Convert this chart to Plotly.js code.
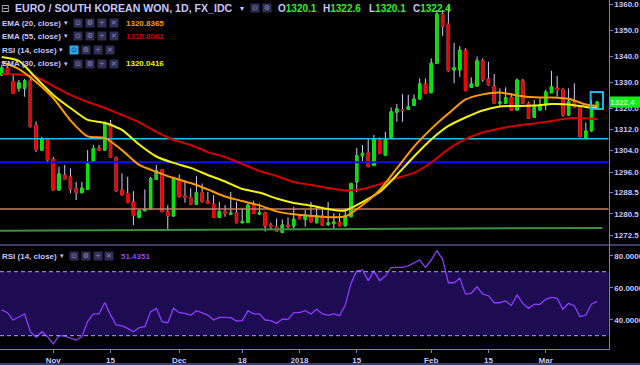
<!DOCTYPE html>
<html><head><meta charset="utf-8">
<script src="https://cdn.plot.ly/plotly-3.0.1.min.js"></script>
<style>html,body{margin:0;padding:0;background:#000}</style>
</head><body><div id="chart" style="width:640px;height:365px"></div>
<script>
// ---------- data ----------
const open = [1332.7,1335.4,1330.2,1327.6,1327.6,1330.5,1313.7,1304.2,1308.2,1300.7,
1289.3,1294.9,1294.2,1289.9,1288.3,1289.6,1299.8,1304.9,1304.2,1314.1,
1301.5,1289.3,1288.0,1284.9,1279.2,1281.6,1282.1,1293.2,1296.8,1281.3,
1279.7,1293.4,1287.1,1286.6,1284.0,1288.3,1285.2,1284.1,1279.2,1281.3,
1280.3,1280.9,1277.2,1277.3,1283.7,1280.4,1280.9,1276.4,1275.8,1273.6,
1276.4,1276.0,1279.4,1278.4,1279.9,1277.2,1279.7,1276.5,1276.9,1277.4,
1276.1,1279.4,1292.3,1302.0,1303.2,1298.4,1308.4,1302.3,1309.0,1318.5,
1319.4,1319.6,1321.1,1323.5,1329.3,1325.9,1337.2,1356.3,1352.4,1334.6,
1334.6,1342.3,1328.0,1328.5,1338.2,1331.2,1328.5,1321.9,1321.9,1324.2,
1319.3,1330.4,1321.9,1316.6,1319.3,1321.2,1325.9,1327.7,1327.2,1317.4,
1322.5,1320.3,1308.9,1311.4,1320.1];
const high = [1336.6,1336.2,1332.7,1330.8,1331.2,1331.4,1315.0,1309.2,1308.5,1301.7,
1298.0,1298.6,1297.4,1292.3,1292.3,1304.2,1306.1,1306.1,1314.9,1315.6,
1301.7,1295.5,1294.2,1288.9,1281.8,1289.5,1294.2,1298.6,1297.0,1283.7,
1294.2,1295.1,1293.0,1289.9,1294.5,1291.7,1288.6,1287.4,1284.9,1283.7,
1288.6,1284.9,1282.5,1284.3,1285.3,1284.3,1281.3,1277.2,1278.8,1278.4,
1279.2,1283.1,1280.0,1281.9,1284.9,1283.4,1282.5,1284.9,1280.7,1280.7,
1282.5,1292.0,1305.0,1306.1,1308.2,1309.9,1309.0,1311.1,1320.3,1321.6,
1325.4,1325.1,1325.3,1331.4,1331.4,1339.1,1357.9,1357.9,1359.2,1345.1,
1343.9,1343.0,1331.8,1339.8,1339.1,1337.8,1333.1,1327.6,1328.0,1325.7,
1331.4,1331.2,1322.5,1323.1,1323.8,1327.0,1334.3,1332.3,1327.6,1327.6,
1329.5,1320.5,1314.6,1323.1,1322.6];
const low = [1332.3,1333.0,1325.5,1326.3,1324.4,1312.8,1303.5,1304.0,1299.3,1289.1,
1289.1,1293.0,1288.1,1285.6,1288.1,1289.4,1299.7,1304.0,1304.0,1301.3,
1288.7,1287.4,1284.5,1276.4,1278.8,1281.5,1282.0,1293.1,1281.1,1274.2,
1279.5,1286.6,1284.6,1283.8,1283.8,1284.8,1284.2,1279.0,1279.0,1279.4,
1280.0,1277.0,1277.0,1277.0,1280.4,1280.0,1274.0,1274.8,1273.8,1273.4,
1275.2,1274.6,1278.5,1275.8,1277.4,1277.0,1276.1,1276.0,1274.6,1275.8,
1275.8,1279.3,1288.4,1300.1,1297.8,1298.2,1302.8,1302.2,1308.8,1314.9,
1314.9,1319.3,1320.8,1323.4,1325.6,1325.8,1337.0,1347.8,1334.1,1329.5,
1332.0,1326.5,1327.9,1328.3,1330.1,1328.7,1321.7,1320.8,1321.7,1319.2,
1319.2,1321.7,1316.1,1316.5,1319.2,1319.3,1325.8,1324.4,1316.8,1317.3,
1320.0,1309.1,1308.8,1311.2,1320.1];
const close = [1335.4,1333.5,1325.7,1329.8,1330.5,1313.0,1304.4,1308.4,1300.5,1289.3,
1295.3,1293.2,1289.6,1288.3,1290.0,1299.0,1304.8,1304.2,1314.1,1301.5,
1289.0,1287.5,1284.6,1279.9,1281.6,1282.2,1293.6,1296.5,1281.3,1279.7,
1293.6,1286.8,1286.6,1284.0,1288.3,1284.9,1284.4,1279.2,1281.3,1280.7,
1280.8,1277.2,1277.7,1283.7,1280.7,1280.9,1276.0,1275.8,1274.0,1276.4,
1275.8,1278.5,1278.7,1280.0,1277.5,1279.9,1276.3,1277.2,1277.5,1276.1,
1279.9,1291.7,1302.1,1303.0,1298.0,1308.4,1303.0,1308.2,1318.7,1319.8,
1319.1,1320.6,1323.5,1329.3,1325.7,1337.2,1356.3,1351.4,1334.3,1335.5,
1342.3,1326.7,1329.3,1338.2,1330.8,1328.9,1321.9,1322.4,1324.0,1319.3,
1330.8,1321.9,1316.2,1320.6,1321.2,1326.2,1328.2,1327.2,1317.4,1322.7,
1320.3,1309.2,1311.4,1320.2,1322.4];
const barIndex = open.map((v, i) => i);

// EMA readings (sampled bars)
const emaIdx = [0,3,6,9,12,15,18,21,24,27,30,33,36,39,42,45,48,51,54,57,60,63,66,69,72,75,78,81,84,87,90,93,96,99,102,104];
const ema20 = [1337.7,1335.0,1330.05,1323.9,1315.4,1309.35,1308.8,1304.2,1298.65,1296.05,1293.75,1291.9,1289.5,1286.9,1285.2,1283.6,1281.4,1280.3,1279.7,1279.25,1279.5,1283.75,1289.3,1297.35,1305.5,1312.2,1318.0,1323.35,1325.3,1326.05,1324.9,1324.2,1324.1,1323.6,1321.45,1320.8365];
const ema55 = [1333.1,1332.9,1331.95,1328.5,1325.1,1322.4,1320.1,1317.45,1314.65,1311.05,1308.0,1306.1,1303.45,1301.6,1299.0,1296.4,1294.5,1292.25,1291.15,1290.05,1289.1,1289.65,1291.5,1293.75,1295.65,1299.55,1304.55,1308.4,1310.85,1312.35,1313.5,1314.25,1315.2,1316.2,1316.25,1315.8061];
const ema30 = [1339.6,1338.1,1331.55,1325.1,1320.1,1315.6,1314.5,1311.8,1306.3,1301.8,1299.4,1297.55,1294.9,1292.45,1289.65,1288.35,1286.15,1284.5,1283.55,1282.25,1281.7,1284.85,1288.55,1294.9,1301.8,1308.2,1313.3,1316.5,1319.15,1320.7,1320.85,1321.05,1321.6,1321.45,1320.5,1320.0416];

const rsi = [46.1,44.4,39.8,41.5,43.6,32.5,29.0,32.5,29.4,24.8,
30.0,29.8,28.3,27.3,29.4,38.8,43.6,43.6,50.8,43.0,
36.7,36.1,34.6,32.5,35.0,35.6,45.0,47.1,38.8,38.1,
47.1,44.4,44.0,42.7,45.6,44.0,42.9,39.8,41.5,41.5,
41.3,39.2,39.4,45.6,43.6,43.6,39.8,39.4,37.7,40.4,
40.2,44.4,44.4,45.6,43.6,46.5,43.6,42.9,43.6,42.5,
49.2,62.7,70.6,71.1,64.4,70.4,64.4,67.3,72.5,72.7,
72.7,73.6,75.2,77.3,72.7,77.3,83.1,77.7,63.1,63.1,
65.9,56.0,56.5,60.6,56.0,55.0,50.6,50.6,51.7,48.8,
55.4,50.2,47.1,49.6,49.6,52.7,54.0,53.3,46.5,50.2,
48.6,41.9,42.9,49.8,51.4351];

// horizontal drawings
const levelSpan = [-0.3, 106];
const levelValues = [1308.5, 1299.65, 1282.25];
const levelColors = ['#12c4f4', '#1010f0', '#c08068'];
const trendX = [-0.3, 104.9];
const trendY = [1274.3, 1275.3];
// highlight box round the last bars
const boxX = [102.85, 105.0, 105.0, 102.85, 102.85];
const boxY = [1319.7, 1319.7, 1326.2, 1326.2, 1319.7];

const priceTicks = [1360, 1350, 1340, 1330, 1320, 1312, 1304, 1296, 1288.5, 1280.5, 1272.5];
const rsiTicks = [40, 60, 80];
const dateTickIdx = [9, 19, 31, 42, 52, 62, 75, 85, 95];
const dateTickText = ['Nov', '15', 'Dec', '18', '2018', '15', 'Feb', '15', 'Mar'];

// ---------- style ----------
const W = 640, H = 365;
const GREEN = '#00e400', RED = '#ee0000', WICK = '#d0d0fa';
const AX = '#7b7bd0', TXT = '#c6c6ff';
const px = x => x / W, py = y => 1 - y / H;

const bodyHigh = open.map((o, i) => Math.max(o, close[i]));
const bodyLow = open.map((o, i) => Math.min(o, close[i]));

const traces = [];
levelValues.forEach((v, k) => traces.push({type:'scatter', mode:'lines', x:levelSpan, y:[v, v],
  line:{color:levelColors[k], width:k === 1 ? 2 : 1.5}, hoverinfo:'skip'}));
traces.push({type:'scatter', mode:'lines', x:trendX, y:trendY, line:{color:'#3e8e3e', width:2}, hoverinfo:'skip'});
traces.push({type:'candlestick', x:barIndex, open:open, high:high, low:low, close:close,
  increasing:{line:{color:WICK, width:1}, fillcolor:GREEN},
  decreasing:{line:{color:WICK, width:1}, fillcolor:RED}, whiskerwidth:0, hoverinfo:'skip'});
traces.push({type:'candlestick', x:barIndex, open:open, high:bodyHigh, low:bodyLow, close:close,
  increasing:{line:{color:GREEN, width:1}, fillcolor:GREEN},
  decreasing:{line:{color:RED, width:1}, fillcolor:RED}, whiskerwidth:0, hoverinfo:'skip'});
traces.push({type:'scatter', mode:'lines', x:emaIdx, y:ema55, line:{color:'#d40000', width:2, shape:'spline', smoothing:0.6}, hoverinfo:'skip'});
traces.push({type:'scatter', mode:'lines', x:emaIdx, y:ema30, line:{color:'#f4f400', width:2, shape:'spline', smoothing:0.6}, hoverinfo:'skip'});
traces.push({type:'scatter', mode:'lines', x:emaIdx, y:ema20, line:{color:'#ff9900', width:2, shape:'spline', smoothing:0.6}, hoverinfo:'skip'});
traces.push({type:'scatter', mode:'lines', x:boxX, y:boxY, line:{color:'#1cb4f8', width:2}, hoverinfo:'skip'});
traces.push({type:'scatter', mode:'lines', x:barIndex, y:rsi, yaxis:'y2', line:{color:'#8c3cff', width:1.3}, hoverinfo:'skip'});

// ---------- annotations ----------
const ann = [];
function txt(x, y, text, size, color, opts) {
  ann.push(Object.assign({xref:'paper', yref:'paper', x:px(x), y:py(y), xanchor:'left', yanchor:'middle',
    text:text, showarrow:false, borderpad:0,
    font:{family:'Liberation Sans, Arial, sans-serif', size:size, color:color, weight:'bold'}}, opts || {}));
}
const GLYPHS = ['⊙', '⚙', '+', '✕'];
function icon(x, y, g, hi) {
  ann.push({xref:'paper', yref:'paper', x:px(x), y:py(y), xanchor:'left', yanchor:'middle', text:g,
    showarrow:false, width:8, height:8, borderpad:0, bgcolor:hi ? '#2aa8f0' : '#2e2e56',
    font:{family:'DejaVu Sans', size:7, color:hi ? '#10305a' : '#8888b0'}});
}
// title row
txt(0, 8.5, '⊟', 10, TXT, {font:{family:'DejaVu Sans', size:10, color:TXT}});
txt(13.5, 8.5, 'EURO / SOUTH KOREAN WON, 1D, FX_IDC', 10.6, TXT);
txt(239, 8.5, '▾', 8, TXT, {font:{family:'DejaVu Sans', size:8, color:TXT}});
icon(249.5, 8.5, GLYPHS[0]); icon(261.5, 8.5, GLYPHS[1]);
const last = open.length - 1;
const ohlc = [['O', open[last], 277], ['H', high[last], 322], ['L', low[last], 368], ['C', close[last], 412]];
ohlc.forEach(o => txt(o[2], 8.5, o[0] + '<span style="color:#2ef02e">' + o[1].toFixed(1) + '</span>', 10, TXT));

// indicator legend rows
const rows = [
  {label:'EMA (20, close)', val:ema20[ema20.length - 1], col:'#ff9900', y:23.3, ix:73.3, vx:125},
  {label:'EMA (55, close)', val:ema55[ema55.length - 1], col:'#d00000', y:36.3, ix:73.3, vx:125},
  {label:'RSI (14, close)', val:null, col:null, y:50.5, ix:69.3, vx:0, hi:true},
  {label:'EMA (30, close)', val:ema30[ema30.length - 1], col:'#f0f000', y:64, ix:73.3, vx:125}
];
rows.forEach(r => {
  txt(1, r.y, r.label, 8, TXT);
  txt(r.hi ? 57.5 : 62.5, r.y, '▾', 7, TXT, {font:{family:'DejaVu Sans', size:7, color:TXT}});
  GLYPHS.forEach((g, k) => icon(r.ix + k * 11.9, r.y, g, r.hi && k === 0));
  if (r.val !== null) txt(r.vx, r.y, r.val.toFixed(4), 8, r.col);
});
// RSI pane legend
txt(1, 256, 'RSI (14, close)', 8, TXT);
txt(58.5, 256, '▾', 7, TXT, {font:{family:'DejaVu Sans', size:7, color:TXT}});
GLYPHS.forEach((g, k) => icon(69.3 + k * 11.7, 256, g, false));
txt(120, 256, rsi[rsi.length - 1].toFixed(4), 8, '#9040ff');
// last price label
ann.push({xref:'paper', yref:'y', x:608.7 / W, y:Math.log10(close[last]), xanchor:'left', yanchor:'middle',
  text:close[last].toFixed(1), showarrow:false, width:31, height:10, align:'left', borderpad:0, bgcolor:'#10f010',
  font:{family:'Liberation Sans, Arial, sans-serif', size:8, color:'#b4ffb4', weight:'bold'}});

// ---------- layout ----------
const tickFont = {family:'Liberation Sans, Arial, sans-serif', size:8, color:TXT, weight:'bold'};
const splitY = 245, rsiBottom = 349.3;
const layout = {
  width:W, height:H, margin:{l:0, r:0, t:0, b:0}, paper_bgcolor:'#000', plot_bgcolor:'#000',
  showlegend:false, boxgap:0.42, hovermode:false,
  xaxis:{domain:[0, 608.7 / W], range:[-0.3, 106], anchor:'y2', showgrid:false, zeroline:false,
    showline:true, linecolor:AX, linewidth:1, ticks:'outside', ticklen:3, tickcolor:AX,
    tickmode:'array', tickvals:dateTickIdx, ticktext:dateTickText, tickfont:tickFont,
    rangeslider:{visible:false}, fixedrange:true},
  yaxis:{domain:[1 - splitY / H, 1], type:'log', range:[3.103479, 3.134113], side:'right', anchor:'x',
    showgrid:false, zeroline:false, showline:true, linecolor:AX, linewidth:1, ticks:'outside', ticklen:3,
    tickcolor:AX, tickmode:'array', tickvals:priceTicks, ticktext:priceTicks.map(v => v.toFixed(1)),
    tickfont:tickFont, fixedrange:true},
  yaxis2:{domain:[1 - rsiBottom / H, 1 - splitY / H], range:[21.5, 86.69], side:'right', anchor:'x',
    showgrid:false, zeroline:false, showline:true, linecolor:AX, linewidth:1, ticks:'outside', ticklen:3,
    tickcolor:AX, tickmode:'array', tickvals:rsiTicks, ticktext:rsiTicks.map(v => v.toFixed(4)),
    tickfont:tickFont, fixedrange:true},
  shapes:[
    {type:'rect', xref:'x domain', yref:'y2', x0:0, x1:1, y0:30, y1:70, fillcolor:'#1e0c52', line:{width:0}, layer:'below'},
    {type:'line', xref:'x domain', yref:'y2', x0:0, x1:1, y0:70, y1:70, line:{color:'#a8a0ff', width:1, dash:'4px,3px'}},
    {type:'line', xref:'x domain', yref:'y2', x0:0, x1:1, y0:30, y1:30, line:{color:'#a8a0ff', width:1, dash:'4px,3px'}},
    {type:'line', xref:'paper', yref:'paper', x0:0, x1:1, y0:py(splitY), y1:py(splitY), line:{color:AX, width:1}},
    {type:'line', xref:'paper', yref:'paper', x0:0, x1:1, y0:py(364), y1:py(364), line:{color:AX, width:1}}
  ],
  annotations:ann
};
Plotly.newPlot('chart', traces, layout, {displayModeBar:false, staticPlot:true});
</script></body></html>
